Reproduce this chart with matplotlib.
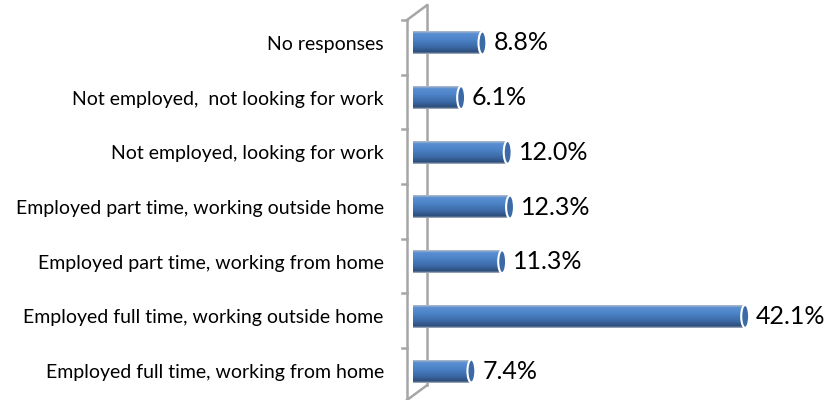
import numpy as np
import matplotlib

matplotlib.use("Agg")

import matplotlib.pyplot as plt
from matplotlib.patches import Ellipse
from matplotlib.colors import LinearSegmentedColormap

categories = [
    "Employed full time, working from home",
    "Employed full time, working outside home",
    "Employed part time, working from home",
    "Employed part time, working outside home",
    "Not employed, looking for work",
    "Not employed,  not looking for work",
    "No responses",
]
values = [7.4, 42.1, 11.3, 12.3, 12.0, 6.1, 8.8]
value_labels = ["7.4%", "42.1%", "11.3%", "12.3%", "12.0%", "6.1%", "8.8%"]

plt.rcParams["font.family"] = ["Lato", "DejaVu Sans"]

fig = plt.figure(figsize=(8.3, 4), dpi=100)
ax = fig.add_axes([413 / 830, 0.004, 394.5 / 830, 0.957])
ax.set_xlim(0, 50)
ax.set_ylim(-0.5, 6.5)

# cylinder shading: edge line, bright upper body, dark bottom
cmap = LinearSegmentedColormap.from_list(
    "cyl",
    [(0.0, "#aeb6c2"), (0.08, "#2c4d7a"), (0.3, "#3b69a5"),
     (0.65, "#4d84c9"), (0.9, "#5a90d2"), (1.0, "#b4bcc8")],
)
grad = np.linspace(0, 1, 64).reshape(-1, 1)

bar_h = 0.42
cap_w = 1.0

for i, v in enumerate(values):
    y0 = i - bar_h / 2
    ax.imshow(grad, cmap=cmap, extent=[0, v, y0, y0 + bar_h],
              aspect="auto", origin="lower", zorder=2)
    ax.add_patch(Ellipse((v, i), cap_w, bar_h, facecolor="#3b6aa6",
                         edgecolor="white", linewidth=1.5, zorder=3))
    ax.annotate(value_labels[i], (v + cap_w / 2, i), xytext=(5, 0),
                textcoords="offset points", va="center", ha="left",
                fontsize=18, color="black")

# 3-D wall outline on the left
wall = "#a6a6a6"
kw = dict(color=wall, linewidth=1.8, clip_on=False, zorder=1)
ax.plot([-0.76, -0.76], [-0.53, 6.42], **kw)
ax.plot([1.77, 1.77], [-0.26, 6.69], **kw)
ax.plot([-0.76, 1.77], [6.42, 6.69], **kw)
ax.plot([-0.76, 1.77], [-0.53, -0.26], **kw)
for i in range(7):
    yt = i + 0.42
    ax.plot([-1.4, -0.76], [yt, yt], **kw)

ax.set_yticks(range(len(categories)))
ax.set_yticklabels(categories, fontsize=14)
ax.tick_params(axis="y", length=0, pad=21)
ax.set_xticks([])
for s in ax.spines.values():
    s.set_visible(False)

plt.savefig("out.png")
plt.close()
